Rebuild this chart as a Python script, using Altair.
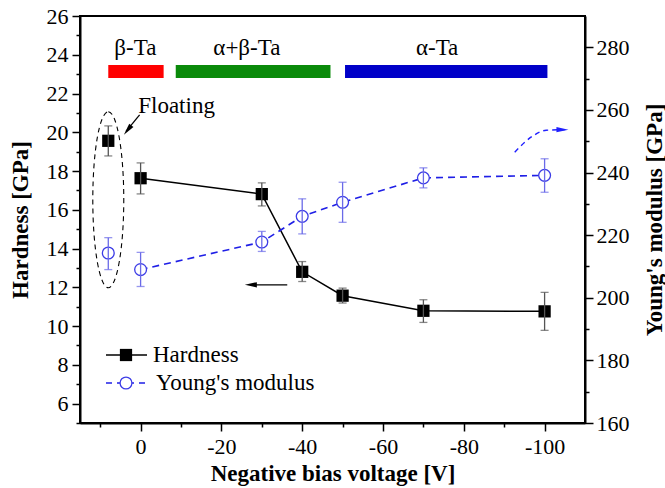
import altair as alt
import pandas as pd

FONT = "Liberation Serif"

# ---------------- data ----------------
volt = [8, 0, -30, -40, -50, -70, -100]          # 8 = "Floating"
connected = [False, True, True, True, True, True, True]
hardness = [19.56, 17.63, 16.81, 12.8, 11.57, 10.79, 10.76]
hardness_lo = [18.78, 16.82, 16.2, 12.3, 11.19, 10.19, 9.78]
hardness_hi = [20.33, 18.42, 17.39, 13.33, 11.96, 11.36, 11.74]
modulus = [214.3, 209.0, 217.8, 226.0, 230.5, 238.3, 239.1]
modulus_lo = [209.0, 203.6, 214.8, 220.4, 224.1, 235.1, 233.7]
modulus_hi = [219.2, 214.5, 221.2, 231.6, 236.9, 241.5, 244.4]

phase_names = ["β-Ta", "α+β-Ta", "α-Ta"]
phase_start = [8, -8.7, -50.6]
phase_end = [-5.7, -47, -100.7]
phase_label_x = [1.3, -26.3, -73.4]
phase_colors = ["#ff0000", "#0a8a0a", "#0000c8"]

x_major = [0, -20, -40, -60, -80, -100]
x_minor = [10, -10, -30, -50, -70, -90]
h_major = [6, 8, 10, 12, 14, 16, 18, 20, 22, 24, 26]
h_minor = [5, 7, 9, 11, 13, 15, 17, 19, 21, 23, 25]
m_major = [160, 180, 200, 220, 240, 260, 280]
m_minor = [170, 190, 210, 230, 250, 270]

legend_labels = ["Hardness", "Young's modulus"]

# blue curved arrow path (modulus scale)
curve_x = [-92.6, -97.0, -100.4, -105.0]
curve_y = [246.5, 251.6, 253.5, 253.7]

df = pd.DataFrame({
    "volt": volt, "connected": connected,
    "h": hardness, "h_lo": hardness_lo, "h_hi": hardness_hi,
    "m": modulus, "m_lo": modulus_lo, "m_hi": modulus_hi,
})
df_conn = df[df["connected"]]
df_phase = pd.DataFrame({"name": phase_names, "x1": phase_start, "x2": phase_end,
                         "lx": phase_label_x, "color": phase_colors})
df_curve = pd.DataFrame({"x": curve_x, "y": curve_y, "o": list(range(len(curve_x)))})

# ---------------- scales ----------------
XS = alt.Scale(domain=[-110, 15], reverse=True, nice=False, zero=False)
HS = alt.Scale(domain=[5, 26], nice=False, zero=False)
MS = alt.Scale(domain=[160, 290], nice=False, zero=False)

LBL = dict(labelFont=FONT, labelFontSize=22, labelColor="black",
           titleFont=FONT, titleFontSize=23, titleFontWeight="bold", titleColor="black",
           domainColor="black", tickColor="black", grid=False)

ax_x_major = alt.Axis(values=x_major, orient="bottom", tickSize=8, tickWidth=1.5,
                      domainWidth=2, labelPadding=5, titlePadding=5,
                      labelExpr="replace(datum.label, '\u2212', '-')",
                      title="Negative bias voltage [V]", **LBL)
ax_x_minor = alt.Axis(values=x_minor, orient="bottom", tickSize=4, tickWidth=1.5,
                      labels=False, domain=False, title=None, grid=False, tickColor="black")
ax_h_major = alt.Axis(values=h_major, orient="left", tickSize=8, tickWidth=1.5,
                      domainWidth=2, labelPadding=4, titlePadding=14,
                      title="Hardness [GPa]", **LBL)
ax_h_minor = alt.Axis(values=h_minor, orient="left", tickSize=4, tickWidth=1.5,
                      labels=False, domain=False, title=None, grid=False, tickColor="black")
ax_m_major = alt.Axis(values=m_major, orient="right", tickSize=8, tickWidth=1.5,
                      domainWidth=2, labelPadding=3, titlePadding=37, titleAngle=270,
                      title="Young's modulus [GPa]", **LBL)
ax_m_minor = alt.Axis(values=m_minor, orient="right", tickSize=4, tickWidth=1.5,
                      labels=False, domain=False, title=None, grid=False, tickColor="black")

base = alt.Chart(df)

# ---------------- hardness ----------------
h_line = alt.Chart(df_conn).mark_line(color="black", strokeWidth=1.5).encode(
    x=alt.X("volt:Q", scale=XS, axis=ax_x_major),
    y=alt.Y("h:Q", scale=HS, axis=ax_h_major),
)
h_err = base.mark_rule(color="#555555", strokeWidth=1.3).encode(
    x=alt.X("volt:Q", scale=XS, axis=None),
    y=alt.Y("h_lo:Q", scale=HS, axis=None), y2="h_hi:Q",
)
h_cap_lo = base.mark_tick(color="#555555", orient="horizontal", size=8, thickness=1.3).encode(
    x=alt.X("volt:Q", scale=XS, axis=None),
    y=alt.Y("h_lo:Q", scale=HS, axis=None),
)
h_cap_hi = base.mark_tick(color="#555555", orient="horizontal", size=8, thickness=1.3).encode(
    x=alt.X("volt:Q", scale=XS, axis=None),
    y=alt.Y("h_hi:Q", scale=HS, axis=None),
)
h_pts = base.mark_point(shape="square", filled=True, color="black", size=150, opacity=1).encode(
    x=alt.X("volt:Q", scale=XS, axis=ax_x_minor),
    y=alt.Y("h:Q", scale=HS, axis=ax_h_minor),
)

# ---------------- modulus ----------------
BLUE_LINE = "#1f1fe6"
BLUE_PT = "#3c3ce6"
BLUE_ERR = "#6a6ae8"
m_line = alt.Chart(df_conn).mark_line(color=BLUE_LINE, strokeWidth=1.6, strokeDash=[7, 5]).encode(
    x=alt.X("volt:Q", scale=XS, axis=None),
    y=alt.Y("m:Q", scale=MS, axis=ax_m_major),
)
m_err = base.mark_rule(color=BLUE_ERR, strokeWidth=1.3).encode(
    x=alt.X("volt:Q", scale=XS, axis=None),
    y=alt.Y("m_lo:Q", scale=MS, axis=None), y2="m_hi:Q",
)
m_cap_lo = base.mark_tick(color=BLUE_ERR, orient="horizontal", size=8, thickness=1.3).encode(
    x=alt.X("volt:Q", scale=XS, axis=None),
    y=alt.Y("m_lo:Q", scale=MS, axis=None),
)
m_cap_hi = base.mark_tick(color=BLUE_ERR, orient="horizontal", size=8, thickness=1.3).encode(
    x=alt.X("volt:Q", scale=XS, axis=None),
    y=alt.Y("m_hi:Q", scale=MS, axis=None),
)
m_pts = base.mark_point(shape="circle", filled=False, fill="white", fillOpacity=1,
                        stroke=BLUE_PT, strokeWidth=1.3, size=140, opacity=1).encode(
    x=alt.X("volt:Q", scale=XS, axis=None),
    y=alt.Y("m:Q", scale=MS, axis=ax_m_minor),
)

# ---------------- phase bars + labels ----------------
phase_bars = alt.Chart(df_phase).mark_rect().encode(
    x=alt.X("x1:Q", scale=XS, axis=None), x2="x2:Q",
    y=alt.Y(datum=22.8, scale=HS, axis=None), y2=alt.Y2(datum=23.47),
    color=alt.Color("color:N", scale=None),
)
phase_text = alt.Chart(df_phase).mark_text(font=FONT, fontSize=23, color="black",
                                           baseline="middle", align="center").encode(
    x=alt.X("lx:Q", scale=XS, axis=None),
    y=alt.Y(datum=24.35, scale=HS, axis=None),
    text="name:N",
)

# ---------------- annotations ----------------
k = 0.5523
a = 0.176
ellipse_path = (f"M 0 -1 C {k*a:.4f} -1 {a} -{k} {a} 0 C {a} {k} {k*a:.4f} 1 0 1 "
                f"C -{k*a:.4f} 1 -{a} {k} -{a} 0 C -{a} -{k} -{k*a:.4f} -1 0 -1 Z")
ellipse = alt.Chart().mark_point(shape=ellipse_path, size=176 * 176, filled=False,
                                 stroke="black", strokeWidth=1.1, strokeDash=[5, 4],
                                 opacity=1).encode(
    x=alt.X(datum=8, scale=XS, axis=None),
    y=alt.Y(datum=16.52, scale=HS, axis=None),
)
float_text = alt.Chart().mark_text(text="Floating", font=FONT, fontSize=23, color="black",
                                   align="center", baseline="middle").encode(
    x=alt.X(datum=-8.9, scale=XS, axis=None),
    y=alt.Y(datum=21.36, scale=HS, axis=None),
)
ARROW = "M 0 0 L 0.38 1.7 L -0.38 1.7 Z"
float_arrow_line = alt.Chart().mark_rule(color="black", strokeWidth=1.3).encode(
    x=alt.X(datum=0.25, scale=XS, axis=None), x2=alt.X2(datum=3.6),
    y=alt.Y(datum=20.9, scale=HS, axis=None), y2=alt.Y2(datum=20.05),
)
float_arrow_head = alt.Chart().mark_point(shape=ARROW, size=200, filled=True, color="black",
                                          angle=218, opacity=1).encode(
    x=alt.X(datum=4.13, scale=XS, axis=None),
    y=alt.Y(datum=19.87, scale=HS, axis=None),
)
left_arrow_line = alt.Chart().mark_rule(color="black", strokeWidth=1.3).encode(
    x=alt.X(datum=-36.3, scale=XS, axis=None), x2=alt.X2(datum=-27.5),
    y=alt.Y(datum=12.13, scale=HS, axis=None),
)
left_arrow_head = alt.Chart().mark_point(shape=ARROW, size=200, filled=True, color="black",
                                         angle=270, opacity=1).encode(
    x=alt.X(datum=-25.8, scale=XS, axis=None),
    y=alt.Y(datum=12.13, scale=HS, axis=None),
)
curve = alt.Chart(df_curve).mark_line(color="#2020ff", strokeWidth=1.4, strokeDash=[5, 4],
                                      interpolate="monotone").encode(
    x=alt.X("x:Q", scale=XS, axis=None),
    y=alt.Y("y:Q", scale=MS, axis=None),
    order="o:Q",
)
curve_head = alt.Chart().mark_point(shape=ARROW, size=200, filled=True, color="#2020ff",
                                    angle=90, opacity=1).encode(
    x=alt.X(datum=-105.9, scale=XS, axis=None),
    y=alt.Y(datum=253.7, scale=MS, axis=None),
)

# ---------------- legend (pixel positions inside plot) ----------------
leg_h_line = alt.Chart().mark_rule(color="black", strokeWidth=1.5).encode(
    x=alt.value(26), x2=alt.value(67), y=alt.value(339))
leg_h_pt = alt.Chart().mark_point(shape="square", filled=True, color="black", size=150,
                                  opacity=1).encode(x=alt.value(46), y=alt.value(339))
leg_h_txt = alt.Chart().mark_text(text=legend_labels[0], font=FONT, fontSize=23, color="black",
                                  align="left", baseline="middle").encode(
    x=alt.value(73), y=alt.value(339))
leg_m_line = alt.Chart().mark_rule(color=BLUE_LINE, strokeWidth=1.6, strokeDash=[6, 5]).encode(
    x=alt.value(26), x2=alt.value(67), y=alt.value(367))
leg_m_pt = alt.Chart().mark_point(shape="circle", filled=False, fill="white", fillOpacity=1,
                                  stroke=BLUE_PT, strokeWidth=1.3, size=140, opacity=1).encode(
    x=alt.value(46), y=alt.value(367))
leg_m_txt = alt.Chart().mark_text(text=legend_labels[1], font=FONT, fontSize=23, color="black",
                                  align="left", baseline="middle").encode(
    x=alt.value(76), y=alt.value(367))

chart = alt.layer(
    h_line, h_pts,
    m_line, m_pts,
    phase_bars, phase_text,
    ellipse, float_text, float_arrow_line, float_arrow_head,
    left_arrow_line, left_arrow_head, curve, curve_head,
    h_err, h_cap_lo, h_cap_hi, m_err, m_cap_lo, m_cap_hi,
    leg_h_line, leg_h_pt, leg_h_txt, leg_m_line, leg_m_pt, leg_m_txt,
).resolve_scale(
    x="independent", y="independent"
).properties(
    width=505, height=407,
    autosize=alt.AutoSizeParams(type="none"),
    padding={"left": 80, "top": 16, "right": 80, "bottom": 65},
    background="white",
).configure_view(
    stroke="black", strokeWidth=2
)

chart.save("out.html", embed_options={"renderer": "svg", "actions": False})
